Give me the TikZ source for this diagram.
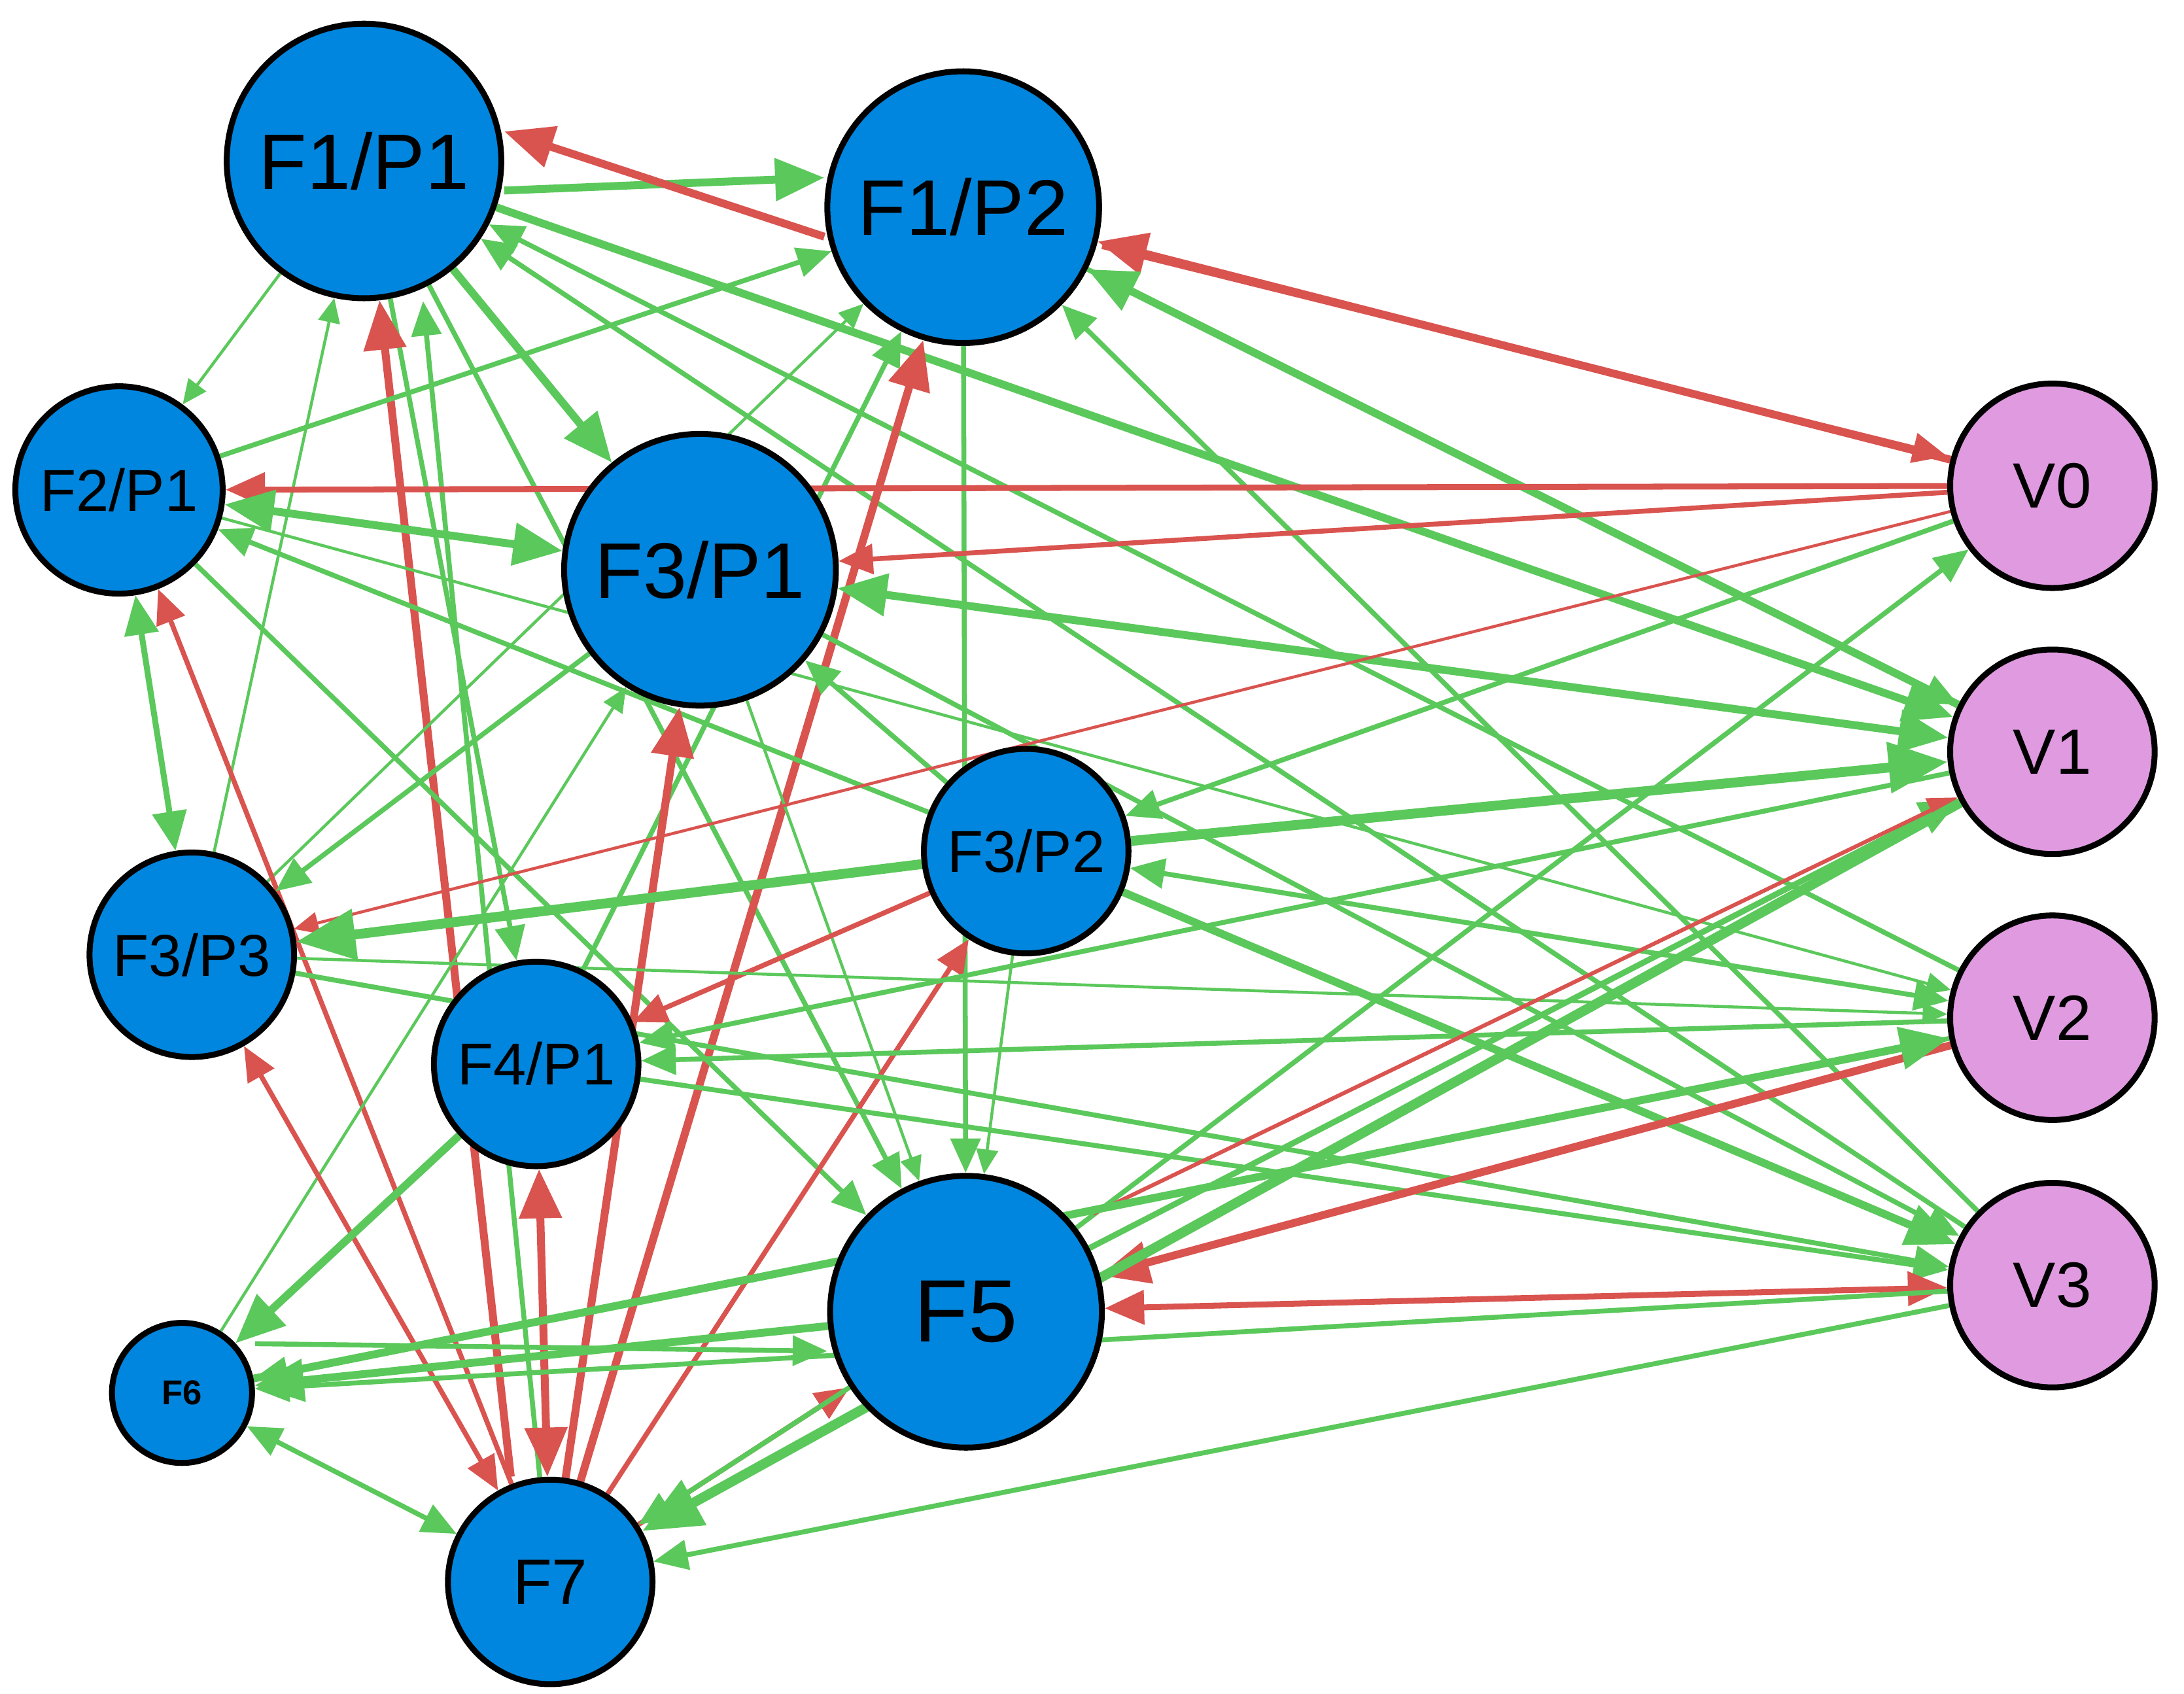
\documentclass[tikz,border=0pt]{standalone}
\usepackage{fontspec}
\setmainfont{Liberation Sans}
\usetikzlibrary{arrows.meta,backgrounds}
\definecolor{nb}{HTML}{0086DE}
\definecolor{np}{HTML}{E09AE0}
\definecolor{eg}{HTML}{5BC85B}
\definecolor{er}{HTML}{D9534F}
\tikzset{
 n/.style={circle,draw=black,line width=1.2pt,fill=nb,inner sep=0pt,minimum size=#1},
 v/.style={circle,draw=black,line width=1.2pt,fill=np,inner sep=0pt,minimum size=1.46cm,font=\fontsize{13}{13}\selectfont},
 g/.style={draw=eg,line width=#1,-{Triangle[length=4pt*#1/0.8pt+2pt,width=3.2pt*#1/0.8pt+2pt]}},
 r/.style={draw=er,line width=#1,-{Triangle[length=4pt*#1/0.8pt+2pt,width=3.2pt*#1/0.8pt+2pt]}},
 gb/.style={g=#1,{Triangle[length=4pt*#1/0.8pt+2pt,width=3.2pt*#1/0.8pt+2pt]}-{Triangle[length=4pt*#1/0.8pt+2pt,width=3.2pt*#1/0.8pt+2pt]}},
 rb/.style={r=#1,{Triangle[length=4pt*#1/0.8pt+2pt,width=3.2pt*#1/0.8pt+2pt]}-{Triangle[length=4pt*#1/0.8pt+2pt,width=3.2pt*#1/0.8pt+2pt]}},
}
\begin{document}
\begin{tikzpicture}[x=0.01cm,y=-0.01cm]
\useasboundingbox (0,0) rectangle (1560,1210);
\node[n=1.96cm,font=\fontsize{16}{16}\selectfont] (a) at (260,115) {F1/P1};
\node[n=1.94cm,font=\fontsize{16}{16}\selectfont] (b) at (688,148) {F1/P2};
\node[n=1.48cm,font=\fontsize{12}{12}\selectfont] (c) at (85,350) {F2/P1};
\node[n=1.94cm,font=\fontsize{16}{16}\selectfont] (d) at (500,407) {F3/P1};
\node[n=1.46cm,font=\fontsize{12}{12}\selectfont] (e) at (733,608) {F3/P2};
\node[n=1.46cm,font=\fontsize{12}{12}\selectfont] (f) at (137,682) {F3/P3};
\node[n=1.46cm,font=\fontsize{12}{12}\selectfont] (h) at (383,760) {F4/P1};
\node[n=1.94cm,font=\fontsize{18}{18}\selectfont] (i) at (690,937) {F5};
\node[n=1.0cm,font=\bfseries\fontsize{7}{7}\selectfont] (j) at (130,995) {F6};
\node[n=1.46cm,font=\fontsize{13}{13}\selectfont] (k) at (393,1130) {F7};
\node[v] (v0) at (1466,347) {V0};
\node[v] (v1) at (1466,537) {V1};
\node[v] (v2) at (1466,727) {V2};
\node[v] (v3) at (1466,918) {V3};
\begin{pgfonlayer}{background}
\draw[g=1.6pt] ([yshift=-6]a.east) -- ([yshift=6]b.west);
\draw[r=1.6pt] ([yshift=-6]b.west) -- ([yshift=6]a.east);
\draw[g=0.6pt] (a) -- (c);
\draw[g=1.6pt] (a) -- (d);
\draw[g=1pt] (a) -- (h);
\draw[g=1pt] (a) -- (i);
\draw[g=1.6pt] (a) -- (v1);
\draw[g=1pt] (v2) -- (a);
\draw[g=1pt] (v3) -- (a);
\draw[g=0.6pt] (f) -- (a);
\draw[g=1pt] (k) -- ([xshift=12]a.south);
\draw[r=1.6pt] ([xshift=-8]k.north) -- (a);
\draw[g=1pt] (c) -- (b);
\draw[r=1.6pt] (v0) -- (b);
\draw[r=1pt] ([yshift=-8]b.east) -- ([yshift=6]v0.west);
\draw[g=1.6pt] (v1) -- (b);
\draw[g=1pt] (v3) -- (b);
\draw[g=1pt] (b) -- (i);
\draw[g=0.6pt] (f) -- (b);
\draw[g=1pt] (h) -- (b);
\draw[r=1.6pt] (k) -- (b);
\draw[g=1pt] (b) -- (v1);
\draw[r=1.2pt] (v0) -- (c);
\draw[gb=1.6pt] (c) -- (d);
\draw[r=1pt] (v0) -- (d);
\draw[gb=1.6pt] (d) -- (v1);
\draw[gb=1.2pt] (c) -- (f);
\draw[r=1pt] (k) -- (c);
\draw[g=1pt] (c) -- (i);
\draw[g=0.6pt] (c) -- (v2);
\draw[g=1pt] (e) -- (c);
\draw[g=1pt] (d) -- (f);
\draw[g=0.6pt] (j) -- (d);
\draw[r=1.6pt] (k) -- (d);
\draw[g=0.6pt] (d) -- (i);
\draw[g=1pt] (d) -- (v3);
\draw[g=1pt] (e) -- (d);
\draw[r=0.6pt] (v0) -- (f);
\draw[g=2pt] (e) -- (f);
\draw[g=2pt] (e) -- (v1);
\draw[g=1pt] (v0) -- (e);
\draw[r=1pt] (e) -- (h);
\draw[g=0.6pt] (e) -- (i);
\draw[gb=1pt] (e) -- (v2);
\draw[g=1.6pt] (e) -- (v3);
\draw[r=1pt] (k) -- (e);
\draw[g=0.6pt] (f) -- (v2);
\draw[g=1pt] (f) -- (v3);
\draw[rb=1pt] (f) -- (k);
\draw[g=1.6pt] (h) -- (j);
\draw[rb=1.6pt] (h) -- (k);
\draw[g=1pt] (v1) -- (h);
\draw[g=1pt] (v2) -- (h);
\draw[g=1pt] (h) -- (v3);
\draw[g=1pt] (i) -- (v0);
\draw[g=1.2pt] (i) -- (v1);
\draw[r=0.8pt] ([xshift=6]i.north east) -- (v1);
\draw[r=1.6pt] (v2) -- (i);
\draw[rb=1.2pt] (i) -- (v3);
\draw[g=1.6pt] (i) -- (j);
\draw[g=1pt] ([yshift=10]j.east) -- ([yshift=-8]i.west);
\draw[gb=1pt] (j) -- (k);
\draw[r=1pt] (k) -- (i);
\draw[g=1pt] (i) -- (k);
\draw[g=2pt] (v1) -- (k);
\draw[g=1pt] (v3) -- (k);
\draw[g=1pt] (v2) -- (j);
\draw[g=1pt] (v3) -- (j);
\draw[g=1.6pt] (j) -- (v2);
\end{pgfonlayer}
\end{tikzpicture}
\end{document}
